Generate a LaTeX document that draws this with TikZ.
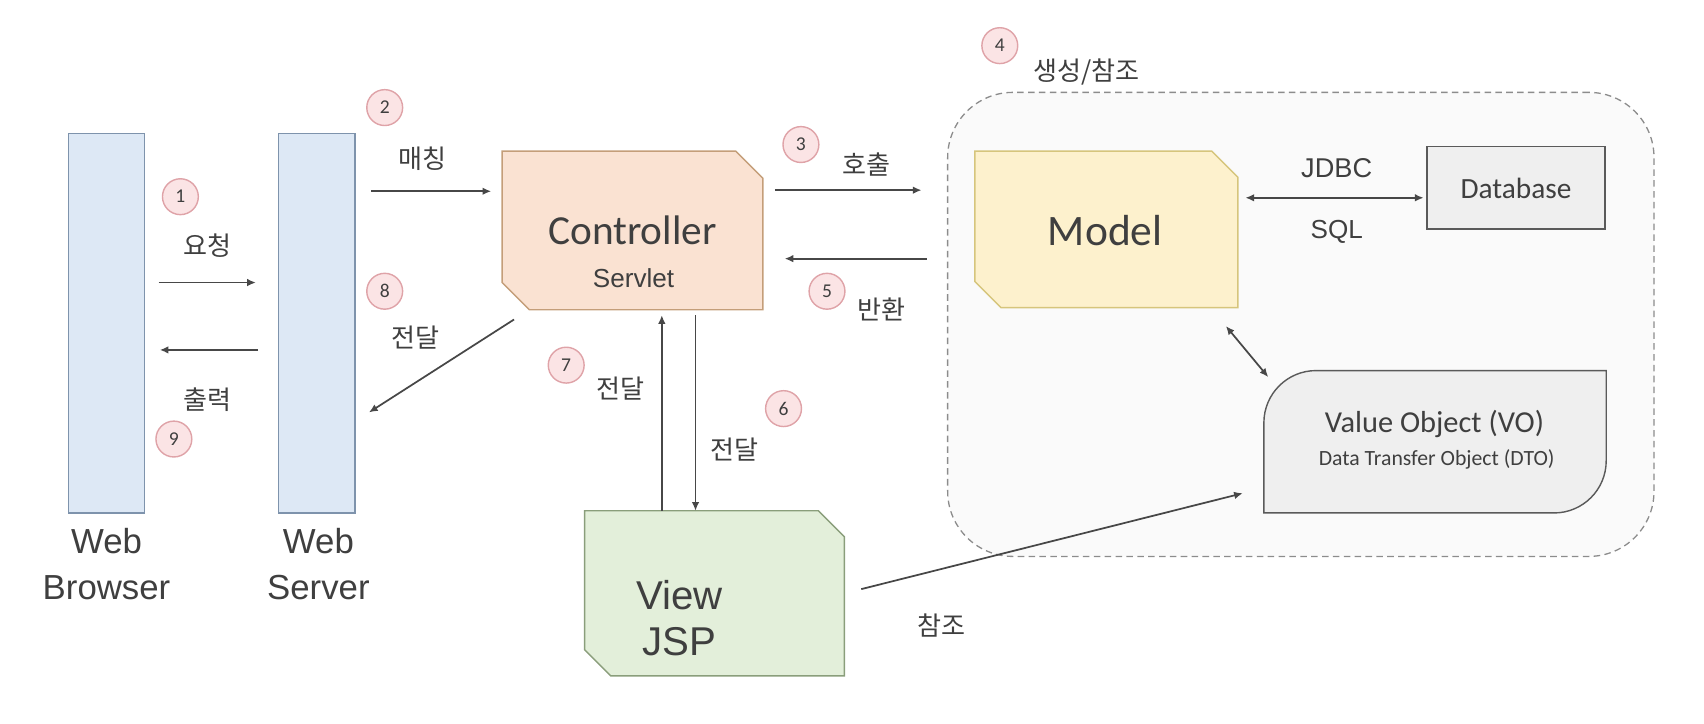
\documentclass[tikz,border=0pt]{standalone}
\usepackage{fontspec}
\setmainfont{Liberation Sans}
\newfontfamily\calfont{Carlito}
\newfontfamily\krfont{Noto Sans CJK KR}
\usetikzlibrary{arrows.meta,calc}
\definecolor{txt}{HTML}{3F3F3F}
\definecolor{arrc}{HTML}{474747}
\definecolor{bluefill}{HTML}{DDE8F5}
\definecolor{bluedraw}{HTML}{7E93AC}
\definecolor{ctrlfill}{HTML}{FAE2D2}
\definecolor{ctrldraw}{HTML}{C49E79}
\definecolor{modelfill}{HTML}{FDF1CD}
\definecolor{modeldraw}{HTML}{D6C57C}
\definecolor{viewfill}{HTML}{E3EFDA}
\definecolor{viewdraw}{HTML}{8A9E7B}
\definecolor{greyfill}{HTML}{EFEFEF}
\definecolor{greydraw}{HTML}{5A5A5A}
\definecolor{contfill}{HTML}{FAFAFA}
\definecolor{contdraw}{HTML}{8C8C8C}
\definecolor{numfill}{HTML}{FBE4E5}
\definecolor{numdraw}{HTML}{DFA3A8}
\newcommand\mychamfer[3]{\draw[#3] (#1.north west) -- ([xshift=-#2]#1.north east) -- ([yshift=-#2]#1.north east) -- (#1.south east) -- ([xshift=#2]#1.south west) -- ([yshift=#2]#1.south west) -- cycle;}
\tikzset{
  lbl/.style={font=\krfont\fontsize{24}{28}\selectfont, text=txt, inner sep=0pt},
  num/.style={circle, draw=numdraw, fill=numfill, line width=1.3pt, minimum size=33pt, inner sep=0pt, font=\calfont\fontsize{18}{20}\selectfont, text=txt},
  arr/.style={draw=arrc, line width=1.6pt, -{Latex[length=8pt,width=7pt]}},
  darr/.style={draw=arrc, line width=1.6pt, {Latex[length=8pt,width=7pt]}-{Latex[length=8pt,width=7pt]}},
  column/.style={draw=bluedraw, fill=bluefill, line width=1.3pt, inner sep=0pt, outer sep=0pt, minimum width=70pt, minimum height=349pt},
  under/.style={font=\fontsize{32}{42}\selectfont, text=txt, align=center, inner sep=0pt},
}
\begin{document}
\begin{tikzpicture}[x=1pt,y=-1pt]
\useasboundingbox (0,0) rectangle (1568,666);
% container
\node[draw=contdraw, fill=contfill, line width=1.2pt, dash pattern=on 6pt off 4pt, rounded corners=60pt, inner sep=0pt, outer sep=0pt, minimum width=650pt, minimum height=427pt] (cont) at (1197,298.5) {};
% columns
\node[column] (browser) at (98,297.5) {};
\node[column] (server) at (291.5,297.5) {};
\node[under] (browserlbl) at (98,519) {Web\\Browser};
\node[under] (serverlbl) at (293,519) {Web\\Server};
% controller
\path node[inner sep=0pt, outer sep=0pt, minimum width=240pt, minimum height=146pt] (ctrl) at (582,212) {};
\mychamfer{ctrl}{25pt}{draw=ctrldraw, fill=ctrlfill, line width=1.3pt}
\node[font=\calfont\fontsize{38}{40}\selectfont, text=txt] (ctrltxt) at (582,212) {Controller};
\node[font=\fontsize{24}{28}\selectfont, text=txt] (servlet) at (583,256) {Servlet};
% model
\path node[inner sep=0pt, outer sep=0pt, minimum width=242pt, minimum height=144pt] (model) at (1018,211) {};
\mychamfer{model}{24pt}{draw=modeldraw, fill=modelfill, line width=1.3pt}
\node[font=\calfont\fontsize{40}{42}\selectfont, text=txt] (modeltxt) at (1017,212) {Model};
% view
\path node[inner sep=0pt, outer sep=0pt, minimum width=239pt, minimum height=152pt] (view) at (657.5,546) {};
\mychamfer{view}{24pt}{draw=viewdraw, fill=viewfill, line width=1.3pt}
\node[font=\fontsize{37}{42}\selectfont, text=txt, align=center] (viewtxt) at (625,569) {View\\JSP};
% database
\node[draw=greydraw, fill=greyfill, line width=1.3pt, inner sep=0pt, outer sep=0pt, minimum width=164pt, minimum height=76pt, font=\calfont\fontsize{27}{30}\selectfont, text=txt] (db) at (1395,173) {Database};
\draw[greydraw, line width=2.2pt] (db.south west) -- (db.south east);
% value object
\path node[inner sep=0pt, outer sep=0pt, minimum width=315pt, minimum height=131pt] (vo) at (1320.5,406.5) {};
\draw[draw=greydraw, fill=greyfill, line width=1.3pt]
  (vo.south west) -- ($(vo.north west)+(0,48)$)
  .. controls ($(vo.north west)+(0,21.5)$) and ($(vo.north west)+(21.5,0)$) .. ($(vo.north west)+(48,0)$)
  -- (vo.north east) -- ($(vo.south east)+(0,-48)$)
  .. controls ($(vo.south east)+(0,-21.5)$) and ($(vo.south east)+(-21.5,0)$) .. ($(vo.south east)+(-48,0)$)
  -- cycle;
\node[font=\calfont\fontsize{28}{30}\selectfont, text=txt] (votxt) at (1320,390) {Value Object (VO)};
\node[font=\calfont\fontsize{20}{22}\selectfont, text=txt] (dtotxt) at (1322,423) {Data Transfer Object (DTO)};
% arrows
\draw[arr, shorten <=13pt, shorten >=21pt] (browser.east |- 0,260) -- (server.west |- 0,260);
\draw[arr, shorten <=19pt, shorten >=14pt] (server.west |- 0,322) -- (browser.east |- 0,322);
\draw[arr, shorten <=15pt, shorten >=10pt] (server.east |- 0,176) -- (ctrl.west |- 0,176);
\draw[arr] ($(ctrl.south west)+(11,9)$) -- ($(server.east)+(13,82)$);
\draw[arr, shorten <=11pt, shorten >=24pt] (ctrl.east |- 0,175) -- (cont.west |- 0,175);
\draw[arr, shorten <=19pt, shorten >=20pt] (cont.west |- 0,238) -- (ctrl.east |- 0,238);
\draw[arr, shorten >=5pt] (609,0 |- view.north) -- (609,0 |- ctrl.south);
\draw[arr, shorten <=5pt] (640,0 |- ctrl.south) -- (640,0 |- view.north);
\draw[darr, shorten <=7pt, shorten >=3pt] (model.east |- 0,182) -- (db.west |- 0,182);
\draw[darr] ($(model.south east)+(-11,17)$) -- ($(vo.north west)+(4,6)$);
\draw[arr, shorten <=16pt, shorten >=20pt] (view.east |- 0,546) -- (vo.west |- 0,449);
% labels
\node[lbl] (l1) at (191,226) {요청};
\node[lbl] (l9) at (191,368) {출력};
\node[lbl] (l2) at (389,146) {매칭};
\node[lbl] (l8) at (382,311) {전달};
\node[lbl] (l3) at (797,151) {호출};
\node[lbl] (l5) at (811,285) {반환};
\node[lbl] (l7) at (571,358) {전달};
\node[lbl] (l6) at (676,414) {전달};
\node[lbl] (l4) at (1000,66) {생성/참조};
\node[lbl] (lref) at (866,576) {참조};
\node[font=\fontsize{25}{28}\selectfont, text=txt] (jdbc) at (1230,155) {JDBC};
\node[font=\fontsize{24}{28}\selectfont, text=txt] (sql) at (1230,213) {SQL};
% number markers
\node[num] (c1) at (166,181) {1};
\node[num] (c2) at (354,99) {2};
\node[num] (c3) at (737,133) {3};
\node[num] (c4) at (920,42) {4};
\node[num] (c5) at (761,268) {5};
\node[num] (c6) at (721,376) {6};
\node[num] (c7) at (521,336) {7};
\node[num] (c8) at (354,268) {8};
\node[num] (c9) at (160,404) {9};
\end{tikzpicture}
\end{document}
